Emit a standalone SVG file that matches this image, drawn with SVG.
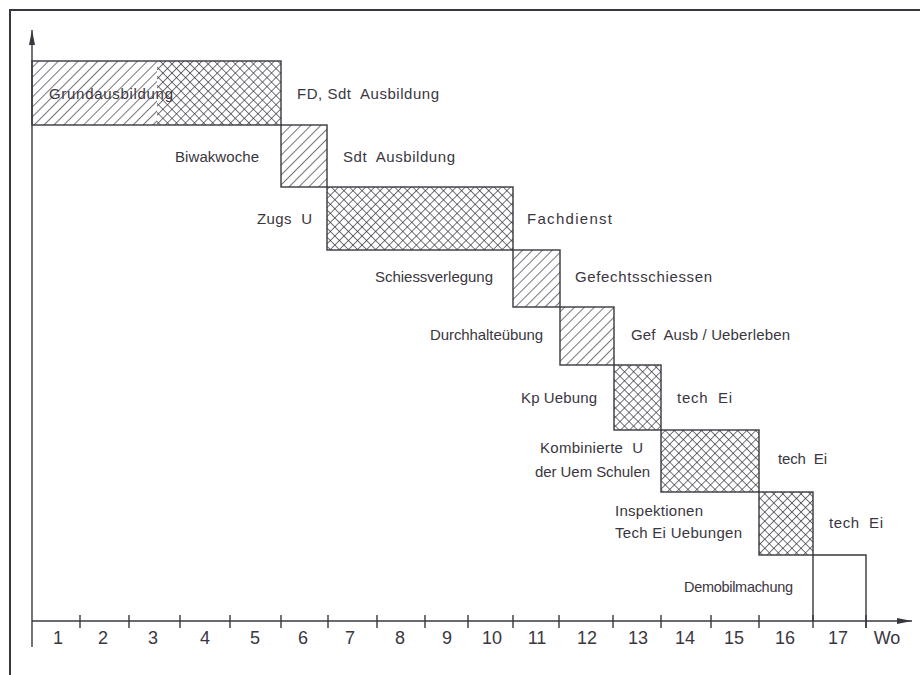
<svg xmlns="http://www.w3.org/2000/svg" width="920" height="675" viewBox="0 0 920 675">
<style>
  .ln{stroke:#3a3640;stroke-width:1.4;fill:none}
  .bd{stroke:#3a3640;stroke-width:2;fill:none}
  .t{font-family:"Liberation Sans","DejaVu Sans",sans-serif;font-size:15px;fill:#3a3640;white-space:pre}
  .s{font-size:14.5px}
  .n{font-family:"Liberation Sans","DejaVu Sans",sans-serif;font-size:18px;fill:#3a3640;text-anchor:middle}
  .diag{fill:url(#diag)}
  .cross{fill:url(#cross)}
</style>
<defs>
  <pattern id="diag" patternUnits="userSpaceOnUse" width="7" height="7" patternTransform="rotate(45)">
    <line x1="0" y1="-1" x2="0" y2="8" stroke="#2e2a34" stroke-width="1.3"/>
  </pattern>
  <pattern id="cross" patternUnits="userSpaceOnUse" width="6.4" height="6.4" patternTransform="rotate(45)">
    <line x1="0" y1="-1" x2="0" y2="7.4" stroke="#2e2a34" stroke-width="1.3"/>
    <line x1="-1" y1="0" x2="7.4" y2="0" stroke="#2e2a34" stroke-width="1.3"/>
  </pattern>
  <marker id="arr" markerWidth="16" markerHeight="8" refX="15" refY="4" orient="auto" markerUnits="userSpaceOnUse">
    <path d="M0,1 L15,4 L0,7 Z" fill="#3a3640"/>
  </marker>
</defs>
<rect width="920" height="675" fill="#ffffff"/>
<g id="frame">
  <path class="bd" d="M920,10 L10,10 L10,675"/>
</g>
<g id="axes">
  <line class="ln" x1="32" y1="647" x2="32" y2="30" marker-end="url(#arr)"/>
  <line class="ln" x1="32" y1="621" x2="912" y2="621" marker-end="url(#arr)"/>
  <path class="ln" d="M80,615V628 M129,615V628 M180,615V628 M230,615V628 M281,615V628 M328,615V628 M377,615V628 M425,615V628 M468,615V628 M513,615V628 M559,615V628 M613,615V628 M661,615V628 M711,615V628 M759,615V628 M813,615V628 M866,615V628"/>
  <text class="n" x="58" y="644">1</text>
  <text class="n" x="103" y="644">2</text>
  <text class="n" x="153" y="644">3</text>
  <text class="n" x="205" y="644">4</text>
  <text class="n" x="255" y="644">5</text>
  <text class="n" x="303" y="644">6</text>
  <text class="n" x="350" y="644">7</text>
  <text class="n" x="400" y="644">8</text>
  <text class="n" x="447" y="644">9</text>
  <text class="n" x="492" y="644">10</text>
  <text class="n" x="537" y="644">11</text>
  <text class="n" x="587" y="644">12</text>
  <text class="n" x="638" y="644">13</text>
  <text class="n" x="685" y="644">14</text>
  <text class="n" x="734" y="644">15</text>
  <text class="n" x="785" y="644">16</text>
  <text class="n" x="838" y="644">17</text>
  <text class="n" x="887" y="644">Wo</text>
</g>
<g id="phase1">
  <rect class="diag" x="32" y="61" width="125" height="64"/>
  <rect class="cross" x="157" y="61" width="124" height="64"/>
  <rect class="ln" x="32" y="61" width="249" height="64"/>
  <text class="t" x="49" y="99" textLength="124" lengthAdjust="spacing">Grundausbildung</text>
  <text class="t" x="297" y="99" textLength="142" lengthAdjust="spacing">FD, Sdt  Ausbildung</text>
</g>
<g id="phase2">
  <rect class="diag" x="281" y="125" width="46" height="62"/>
  <rect class="ln" x="281" y="125" width="46" height="62"/>
  <text class="t" x="175" y="162" textLength="84" lengthAdjust="spacing">Biwakwoche</text>
  <text class="t" x="343" y="162" textLength="112" lengthAdjust="spacing">Sdt  Ausbildung</text>
</g>
<g id="phase3">
  <rect class="cross" x="327" y="187" width="186" height="63"/>
  <rect class="ln" x="327" y="187" width="186" height="63"/>
  <text class="t" x="257" y="224" textLength="55" lengthAdjust="spacing">Zugs  U</text>
  <text class="t" x="527" y="224" textLength="85" lengthAdjust="spacing">Fachdienst</text>
</g>
<g id="phase4">
  <rect class="diag" x="513" y="250" width="47" height="57"/>
  <rect class="ln" x="513" y="250" width="47" height="57"/>
  <text class="t" x="375" y="282" textLength="118" lengthAdjust="spacing">Schiessverlegung</text>
  <text class="t" x="575" y="282" textLength="137" lengthAdjust="spacing">Gefechtsschiessen</text>
</g>
<g id="phase5">
  <rect class="diag" x="560" y="307" width="54" height="58"/>
  <rect class="ln" x="560" y="307" width="54" height="58"/>
  <text class="t" x="430" y="340" textLength="113" lengthAdjust="spacing">Durchhalteübung</text>
  <text class="t" x="631" y="340" textLength="159" lengthAdjust="spacing">Gef  Ausb / Ueberleben</text>
</g>
<g id="phase6">
  <rect class="cross" x="614" y="365" width="47" height="65"/>
  <rect class="ln" x="614" y="365" width="47" height="65"/>
  <text class="t" x="521" y="403" textLength="76" lengthAdjust="spacing">Kp Uebung</text>
  <text class="t" x="677" y="403" textLength="55" lengthAdjust="spacing">tech  Ei</text>
</g>
<g id="phase7">
  <rect class="cross" x="661" y="430" width="98" height="62"/>
  <rect class="ln" x="661" y="430" width="98" height="62"/>
  <text class="t" x="540" y="453" textLength="103" lengthAdjust="spacing">Kombinierte  U</text>
  <text class="t" x="535" y="477" textLength="115" lengthAdjust="spacing">der Uem Schulen</text>
  <text class="t" x="778" y="464" textLength="49" lengthAdjust="spacing">tech  Ei</text>
</g>
<g id="phase8">
  <rect class="cross" x="759" y="492" width="54" height="63"/>
  <rect class="ln" x="759" y="492" width="54" height="63"/>
  <text class="t" x="615" y="516" textLength="88" lengthAdjust="spacing">Inspektionen</text>
  <text class="t" x="615" y="538" textLength="127" lengthAdjust="spacing">Tech Ei Uebungen</text>
  <text class="t" x="829" y="528" textLength="54" lengthAdjust="spacing">tech  Ei</text>
</g>
<g id="phase9">
  <path class="ln" d="M813,621 V555 H866 V628"/>
  <text class="t s" x="684" y="592" textLength="109" lengthAdjust="spacing">Demobilmachung</text>
</g>
</svg>
